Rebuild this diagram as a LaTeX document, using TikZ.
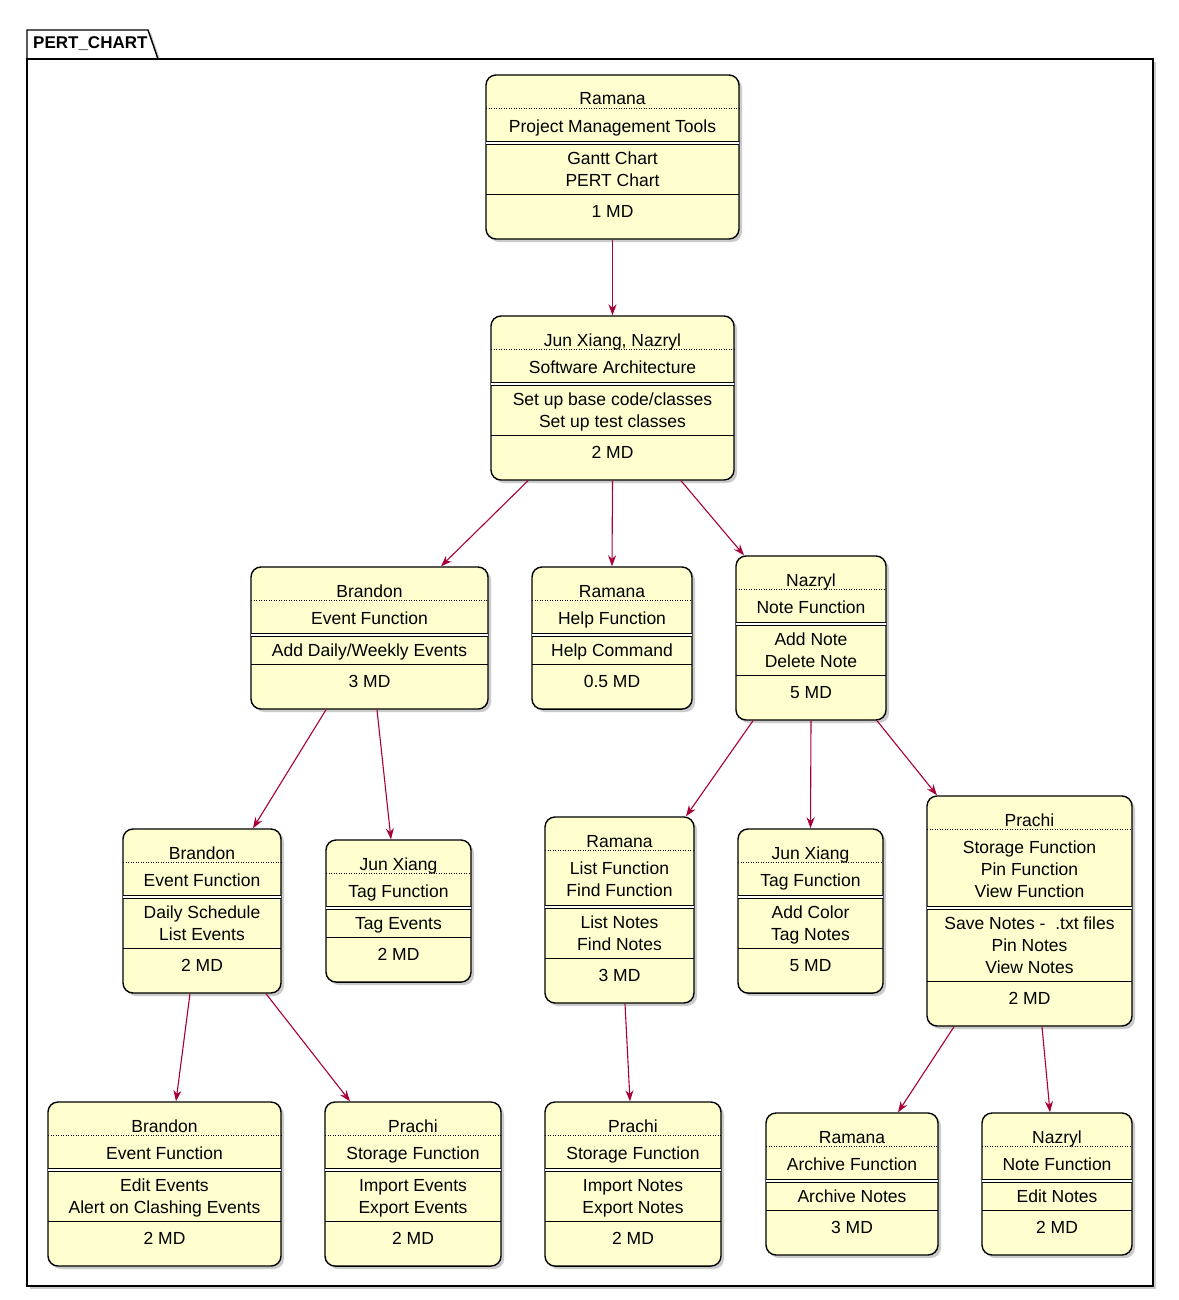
\documentclass[tikz,border=0pt]{standalone}
\usepackage{fontspec}
\setmainfont{Liberation Sans}
\usepackage{tikz}
\usetikzlibrary{arrows.meta,positioning,fit,backgrounds,shadows}
\usepackage{xcolor}
\definecolor{pertfill}{HTML}{FEFECE}
\definecolor{pertarrow}{HTML}{A80036}

\tikzset{
  pertbox/.style={draw=black, line width=1.4pt, fill=pertfill, rounded corners=10pt, inner sep=0pt,
    drop shadow={shadow xshift=3pt, shadow yshift=-3pt, fill=black!40, opacity=0.5}},
  ownpart/.style={inner xsep=0pt, inner ysep=0pt, outer sep=0pt, text height=30pt, text depth=3pt},
  fnpart/.style={inner xsep=0pt, inner ysep=6.5pt, outer sep=0pt, align=center},
  taskpart/.style={inner xsep=0pt, inner ysep=3.5pt, outer sep=0pt, align=center},
  mdpart/.style={inner xsep=0pt, inner ysep=0pt, outer sep=0pt, text height=23pt, text depth=22pt},
  flow/.style={draw=pertarrow, line width=1.1pt, -{Stealth[length=11pt,width=8pt]}},
  pkgline/.style={draw=black, line width=1.4pt, fill=white,
    drop shadow={shadow xshift=3pt, shadow yshift=-3pt, fill=black!40, opacity=0.5}},
}

% struts for the first and last line of a card section
\newcommand{\cardtop}{\rule{0pt}{18.4pt}}
\newcommand{\cardbot}{\rule[-3.6pt]{0pt}{3.6pt}}

% one task card: name, top centre, width, owner, functions, tasks, days
\newcommand{\pertnode}[7]{%
  \node[ownpart, minimum width=#3, anchor=north] (#1-own) at (#2) {#4};
  \node[fnpart, minimum width=#3, below=0pt of #1-own] (#1-fn) {\cardtop#5\cardbot};
  \node[taskpart, minimum width=#3, below=0pt of #1-fn] (#1-task) {\cardtop#6\cardbot};
  \node[mdpart, minimum width=#3, below=0pt of #1-task] (#1-md) {#7};
  \begin{scope}[on background layer]
    \node[pertbox, fit=(#1-own)(#1-md)] (#1) {};
  \end{scope}
  \draw[line width=0.8pt, dash pattern=on 1pt off 1.5pt] (#1-own.south west) -- (#1-own.south east);
  \draw[line width=0.8pt, double distance=2pt] (#1-fn.south west) -- (#1-fn.south east);
  \draw[line width=0.8pt] (#1-task.south west) -- (#1-task.south east);
}

\begin{document}
\begin{tikzpicture}[x=1pt, y=-1pt, font=\fontsize{17.5pt}{22pt}\selectfont]
\useasboundingbox (0,0) rectangle (1178,1300);

% Package frame
\begin{scope}[on background layer]
  \draw[pkgline] (27,59) -- (27,30) -- (148,30) -- (158,59) -- cycle;
  \draw[pkgline] (27,59) rectangle (1153,1286);
\end{scope}
\node[anchor=base west, inner sep=0pt, font=\bfseries\fontsize{17pt}{20pt}\selectfont] (pkg) at (33,49) {PERT\_CHART};

% Cards
\pertnode{pm}{612.5,75}{253pt}{Ramana}{Project Management Tools}{Gantt Chart\\PERT Chart}{1 MD}
\pertnode{sa}{612.5,316}{243pt}{Jun Xiang, Nazryl}{Software Architecture}{Set up base code/classes\\Set up test classes}{2 MD}

\pertnode{evt}{369.5,567}{237pt}{Brandon}{Event Function}{Add Daily/Weekly Events}{3 MD}
\pertnode{help}{612,567}{160pt}{Ramana}{Help Function}{Help Command}{0.5 MD}
\pertnode{note}{811,556}{150pt}{Nazryl}{Note Function}{Add Note\\Delete Note}{5 MD}

\pertnode{sched}{202,829}{158pt}{Brandon}{Event Function}{Daily Schedule\\List Events}{2 MD}
\pertnode{tagev}{398.5,840}{145pt}{Jun Xiang}{Tag Function}{Tag Events}{2 MD}
\pertnode{list}{619.5,817}{149pt}{Ramana}{List Function\\Find Function}{List Notes\\Find Notes}{3 MD}
\pertnode{tagnote}{810.5,829}{145pt}{Jun Xiang}{Tag Function}{Add Color\\Tag Notes}{5 MD}
\pertnode{store}{1029.5,796}{205pt}{Prachi}{Storage Function\\Pin Function\\View Function}{Save Notes - \ .txt files\\Pin Notes\\View Notes}{2 MD}

\pertnode{edit}{164.5,1102}{233pt}{Brandon}{Event Function}{Edit Events\\Alert on Clashing Events}{2 MD}
\pertnode{impev}{413,1102}{176pt}{Prachi}{Storage Function}{Import Events\\Export Events}{2 MD}
\pertnode{impnote}{633,1102}{176pt}{Prachi}{Storage Function}{Import Notes\\Export Notes}{2 MD}
\pertnode{archive}{852,1113}{172pt}{Ramana}{Archive Function}{Archive Notes}{3 MD}
\pertnode{editnote}{1057,1113}{150pt}{Nazryl}{Note Function}{Edit Notes}{2 MD}

% Dependencies
\draw[flow] (pm.south) -- (sa.north);
\draw[flow] ([xshift=-84.5pt]sa.south) -- ([xshift=71.5pt]evt.north);
\draw[flow] (sa.south) -- (help.north);
\draw[flow] ([xshift=68.5pt]sa.south) -- ([xshift=-67pt]note.north);
\draw[flow] ([xshift=-43.5pt]evt.south) -- ([xshift=51pt]sched.north);
\draw[flow] ([xshift=7.5pt]evt.south) -- ([xshift=-7.5pt]tagev.north);
\draw[flow] ([xshift=-58pt]note.south) -- ([xshift=66.5pt]list.north);
\draw[flow] (note.south) -- (tagnote.north);
\draw[flow] ([xshift=66pt]note.south) -- ([xshift=-92.5pt]store.north);
\draw[flow] ([xshift=-12pt]sched.south) -- ([xshift=11.5pt]edit.north);
\draw[flow] ([xshift=64pt]sched.south) -- ([xshift=-63pt]impev.north);
\draw[flow] ([xshift=5.5pt]list.south) -- ([xshift=-3pt]impnote.north);
\draw[flow] ([xshift=-75.5pt]store.south) -- ([xshift=46pt]archive.north);
\draw[flow] ([xshift=12.5pt]store.south) -- ([xshift=-7pt]editnote.north);
\end{tikzpicture}
\end{document}
